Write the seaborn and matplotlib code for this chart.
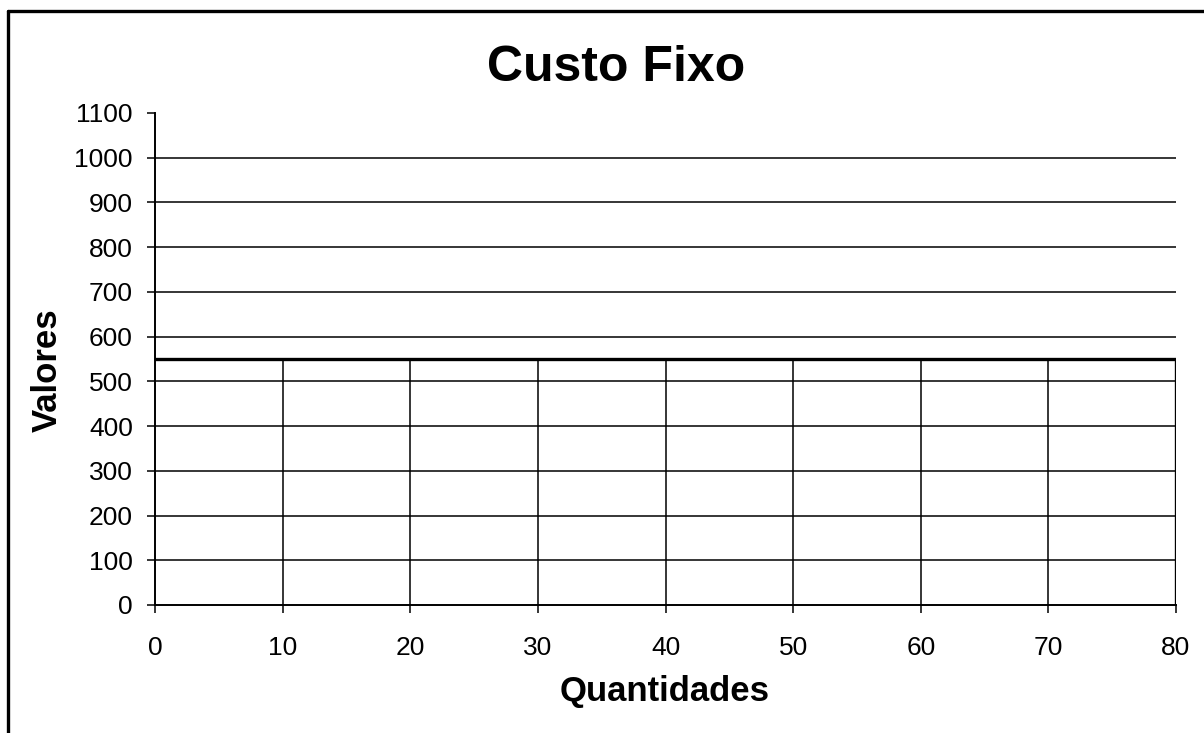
import matplotlib
matplotlib.use("Agg")
import matplotlib.pyplot as plt
from matplotlib.lines import Line2D
import pandas as pd
import seaborn as sns

# Fixed cost over produced quantities
quantidades = [0, 10, 20, 30, 40, 50, 60, 70, 80]
custo_fixo = [550, 550, 550, 550, 550, 550, 550, 550, 550]
y_ticks = [0, 100, 200, 300, 400, 500, 600, 700, 800, 900, 1000, 1100]
x_ticks = [0, 10, 20, 30, 40, 50, 60, 70, 80]

df = pd.DataFrame({"Quantidades": quantidades, "Valores": custo_fixo})

sns.set_theme(style="white")
plt.rcParams["font.family"] = ["Liberation Sans", "DejaVu Sans"]

fig = plt.figure(figsize=(12.04, 7.33), dpi=100)
ax = fig.add_axes([155 / 1204, 1 - 605 / 733, (1176 - 155) / 1204, (605 - 113) / 733])

# horizontal gridlines (none on the top limit)
for v in y_ticks[1:-1]:
    ax.axhline(v, color="black", lw=1.1, zorder=1)

# drop lines from each point down to the axis
ax.vlines(quantidades[1:-1], 0, custo_fixo[1:-1], color="black", lw=1.1, zorder=2)
ax.vlines(quantidades[-1:], 0, custo_fixo[-1:], color="black", lw=2.4, zorder=3)

sns.lineplot(data=df, x="Quantidades", y="Valores", ax=ax, color="black",
             lw=2.4, zorder=4, legend=False)

ax.set_xlim(0, 80)
ax.set_ylim(0, 1100)
ax.set_xticks(x_ticks)
ax.set_yticks(y_ticks)
ax.set_xticklabels([str(v) for v in x_ticks])
ax.set_yticklabels([str(v) for v in y_ticks])
ax.tick_params(axis="both", which="major", direction="out", length=6, width=1.1,
               color="black", labelsize=19, labelcolor="black",
               bottom=True, left=True, top=False, right=False)
ax.tick_params(axis="x", pad=16)
ax.tick_params(axis="y", pad=10)

for side in ["top", "right"]:
    ax.spines[side].set_visible(False)
for side in ["left", "bottom"]:
    ax.spines[side].set_color("black")
    ax.spines[side].set_linewidth(1.4)

ax.set_xlabel("")
ax.set_ylabel("")
fig.text(665 / 1204, 1 - 692 / 733, "Quantidades", ha="center", va="center",
         fontsize=25, fontweight="bold", color="black")
fig.text(47 / 1204, 1 - 370 / 733, "Valores", ha="center", va="center",
         rotation=90, fontsize=25, fontweight="bold", color="black")
fig.text(616 / 1204, 1 - 68 / 733, "Custo Fixo", ha="center", va="center",
         fontsize=36, fontweight="bold", color="black")

# chart frame on the left and top edges
fig.add_artist(Line2D([8 / 1204, 8 / 1204], [0, 1 - 11 / 733], color="black",
                      lw=2.4, transform=fig.transFigure))
fig.add_artist(Line2D([8 / 1204, 1], [1 - 11 / 733, 1 - 11 / 733], color="black",
                      lw=2.4, transform=fig.transFigure))

fig.savefig("out.png", dpi=100, facecolor="white")
